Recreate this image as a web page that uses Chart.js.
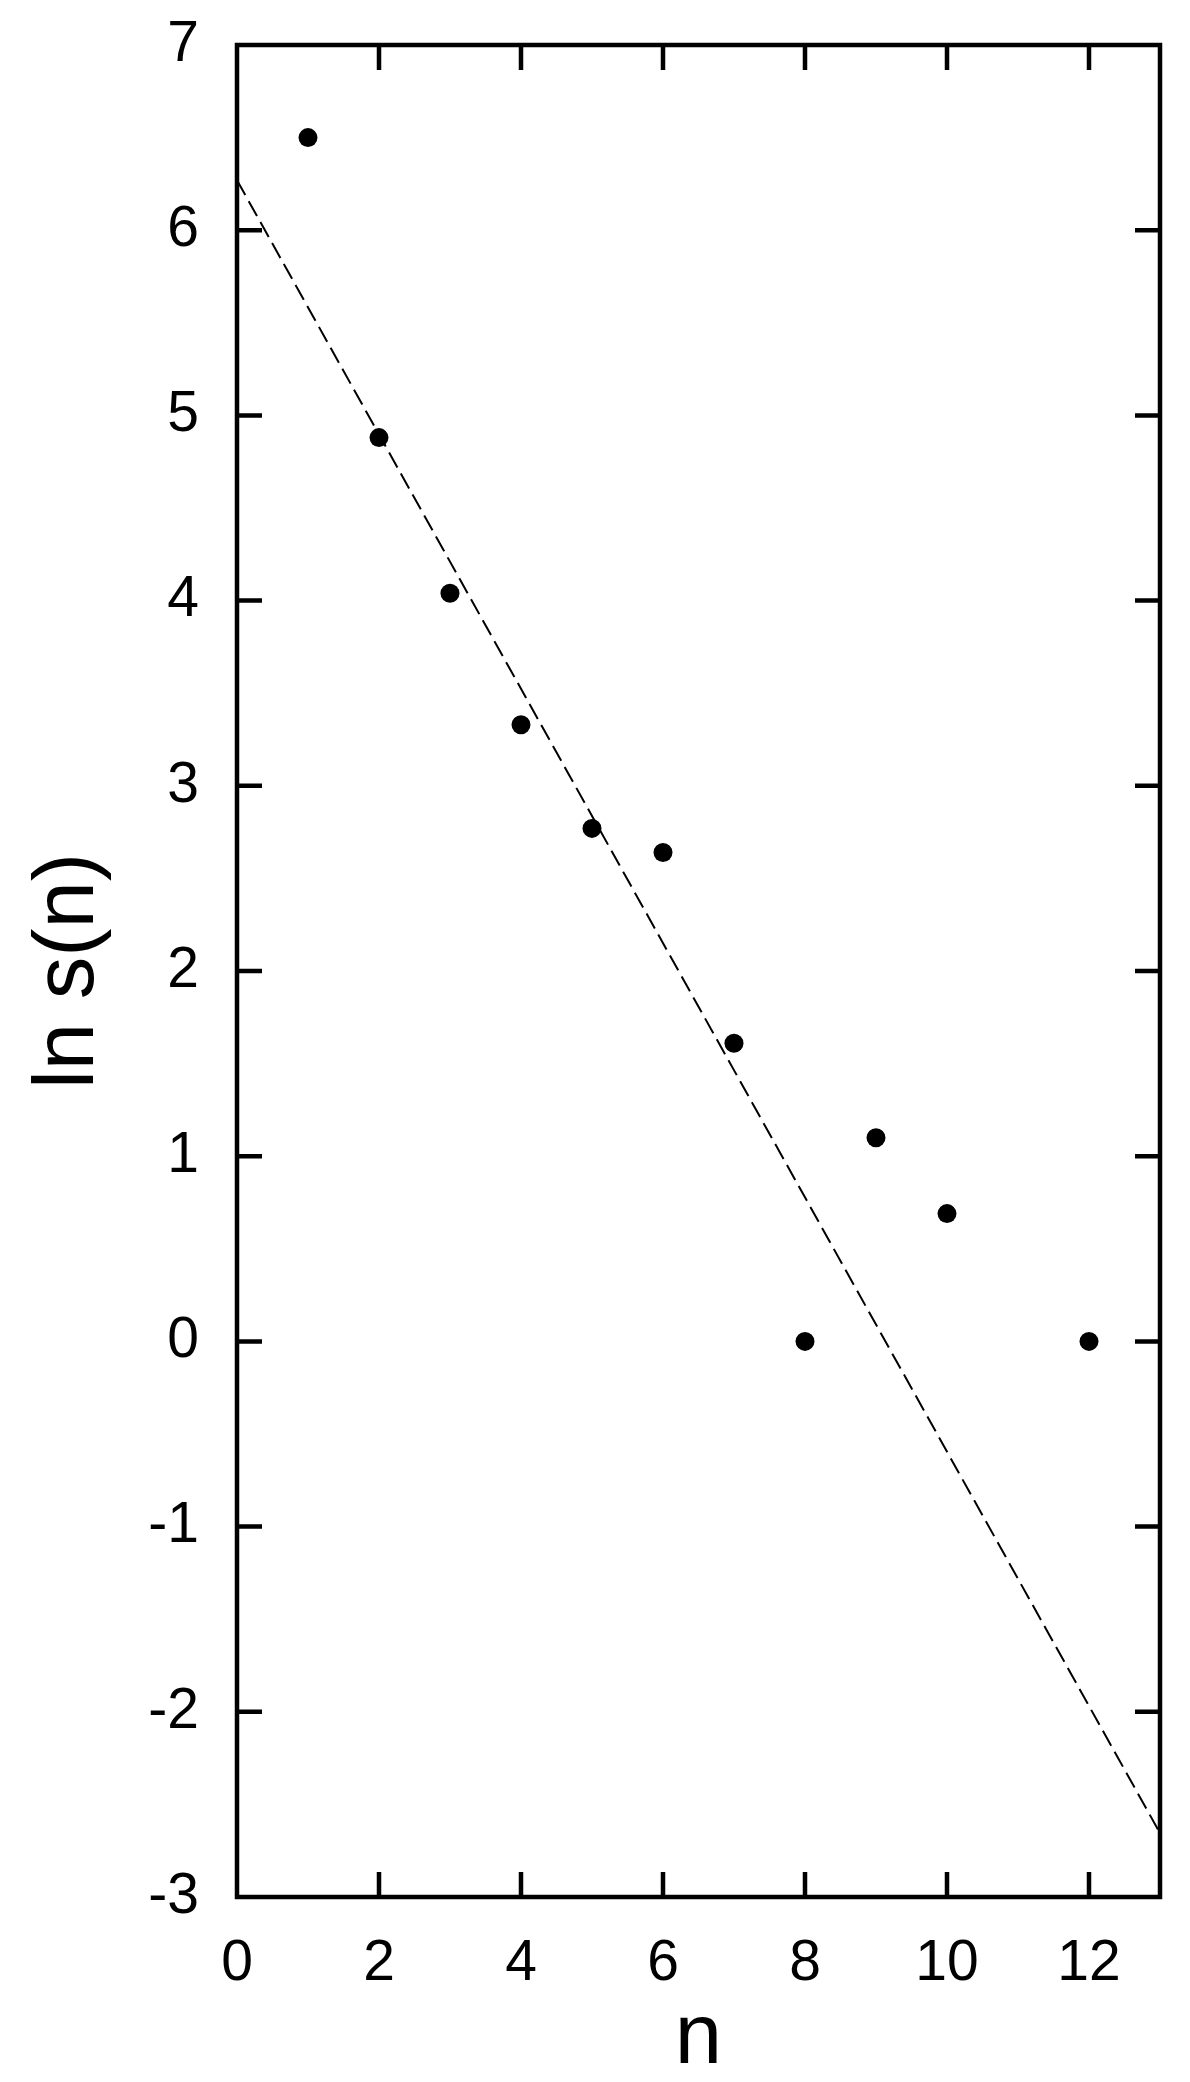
<!DOCTYPE html>
<html lang="en">
<head>
    <meta charset="UTF-8">
    <title>ln s(n) vs n</title>
    <script src="https://cdn.jsdelivr.net/npm/chart.js"></script>
    <style>
        body {
            margin: 0;
            background: #ffffff;
        }
        .wrap {
            width: 1190px;
            height: 2082px;
        }
    </style>
</head>
<body>
    <div class="wrap">
        <canvas id="lnChart"></canvas>
    </div>
<script>
    // measured points
    const nValues = [1, 2, 3, 4, 5, 6, 7, 8, 9, 10, 12];
    const lnS = [6.50, 4.88, 4.04, 3.33, 2.77, 2.64, 1.61, 0, 1.10, 0.69, 0];

    // dashed fit line, read at the two plot edges
    const fitN = [0, 13];
    const fitLnS = [6.27, -2.655];

    const xTicks = [0, 2, 4, 6, 8, 10, 12];
    const yTicks = [-3, -2, -1, 0, 1, 2, 3, 4, 5, 6, 7];

    const FONT = "'Liberation Sans', Arial, sans-serif";

    // box round the plot with ticks pointing inwards on all four sides
    const frameTicks = {
        id: 'frameTicks',
        afterDraw(chart) {
            const {ctx, chartArea: a, scales: {x, y}} = chart;
            const len = 25;
            ctx.save();
            ctx.strokeStyle = '#000';
            ctx.lineWidth = 4.5;
            ctx.beginPath();
            xTicks.forEach(v => {
                const px = x.getPixelForValue(v);
                if (px <= a.left + 1 || px >= a.right - 1) return;
                ctx.moveTo(px, a.bottom);
                ctx.lineTo(px, a.bottom - len);
                ctx.moveTo(px, a.top);
                ctx.lineTo(px, a.top + len);
            });
            yTicks.forEach(v => {
                const py = y.getPixelForValue(v);
                if (py <= a.top + 1 || py >= a.bottom - 1) return;
                ctx.moveTo(a.left, py);
                ctx.lineTo(a.left + len, py);
                ctx.moveTo(a.right, py);
                ctx.lineTo(a.right - len, py);
            });
            ctx.stroke();
            ctx.lineJoin = 'miter';
            ctx.strokeRect(a.left, a.top, a.right - a.left, a.bottom - a.top);
            ctx.restore();
        }
    };

    const ctx = document.getElementById('lnChart').getContext('2d');
    new Chart(ctx, {
        type: 'scatter',
        data: {
            datasets: [{
                label: 'ln s(n)',
                data: nValues.map((n, i) => ({x: n, y: lnS[i]})),
                pointRadius: 9.5,
                pointHoverRadius: 9.5,
                backgroundColor: '#000',
                borderWidth: 0
            }, {
                label: 'fit',
                data: fitN.map((n, i) => ({x: n, y: fitLnS[i]})),
                showLine: true,
                pointRadius: 0,
                borderColor: '#000',
                borderWidth: 2,
                borderDash: [17, 7],
                fill: false
            }]
        },
        options: {
            responsive: true,
            maintainAspectRatio: false,
            devicePixelRatio: 1,
            animation: false,
            layout: {
                padding: {left: 0, right: 30, top: 45, bottom: 0}
            },
            plugins: {
                legend: {display: false},
                tooltip: {enabled: false}
            },
            scales: {
                x: {
                    type: 'linear',
                    min: 0,
                    max: 13,
                    grid: {display: false},
                    border: {display: false},
                    afterBuildTicks: s => { s.ticks = xTicks.map(v => ({value: v})); },
                    afterFit: s => { s.height = 185; s.paddingLeft = 0; s.paddingRight = 0; },
                    ticks: {
                        color: '#000',
                        padding: 25,
                        maxRotation: 0,
                        font: {family: FONT, size: 57}
                    },
                    title: {
                        display: true,
                        text: 'n',
                        color: '#000',
                        font: {family: FONT, size: 85, lineHeight: 1},
                        padding: {top: -6, bottom: 0}
                    }
                },
                y: {
                    type: 'linear',
                    min: -3,
                    max: 7,
                    grid: {display: false},
                    border: {display: false},
                    afterBuildTicks: s => { s.ticks = yTicks.map(v => ({value: v})); },
                    afterFit: s => { s.width = 237; s.paddingTop = 0; s.paddingBottom = 0; },
                    ticks: {
                        color: '#000',
                        padding: 30,
                        font: {family: FONT, size: 57}
                    },
                    title: {
                        display: true,
                        text: 'ln s(n)',
                        color: '#000',
                        font: {family: FONT, size: 85, lineHeight: 1.2},
                        padding: {top: 19, bottom: 0}
                    }
                }
            }
        },
        plugins: [frameTicks]
    });
</script>
</body>
</html>
